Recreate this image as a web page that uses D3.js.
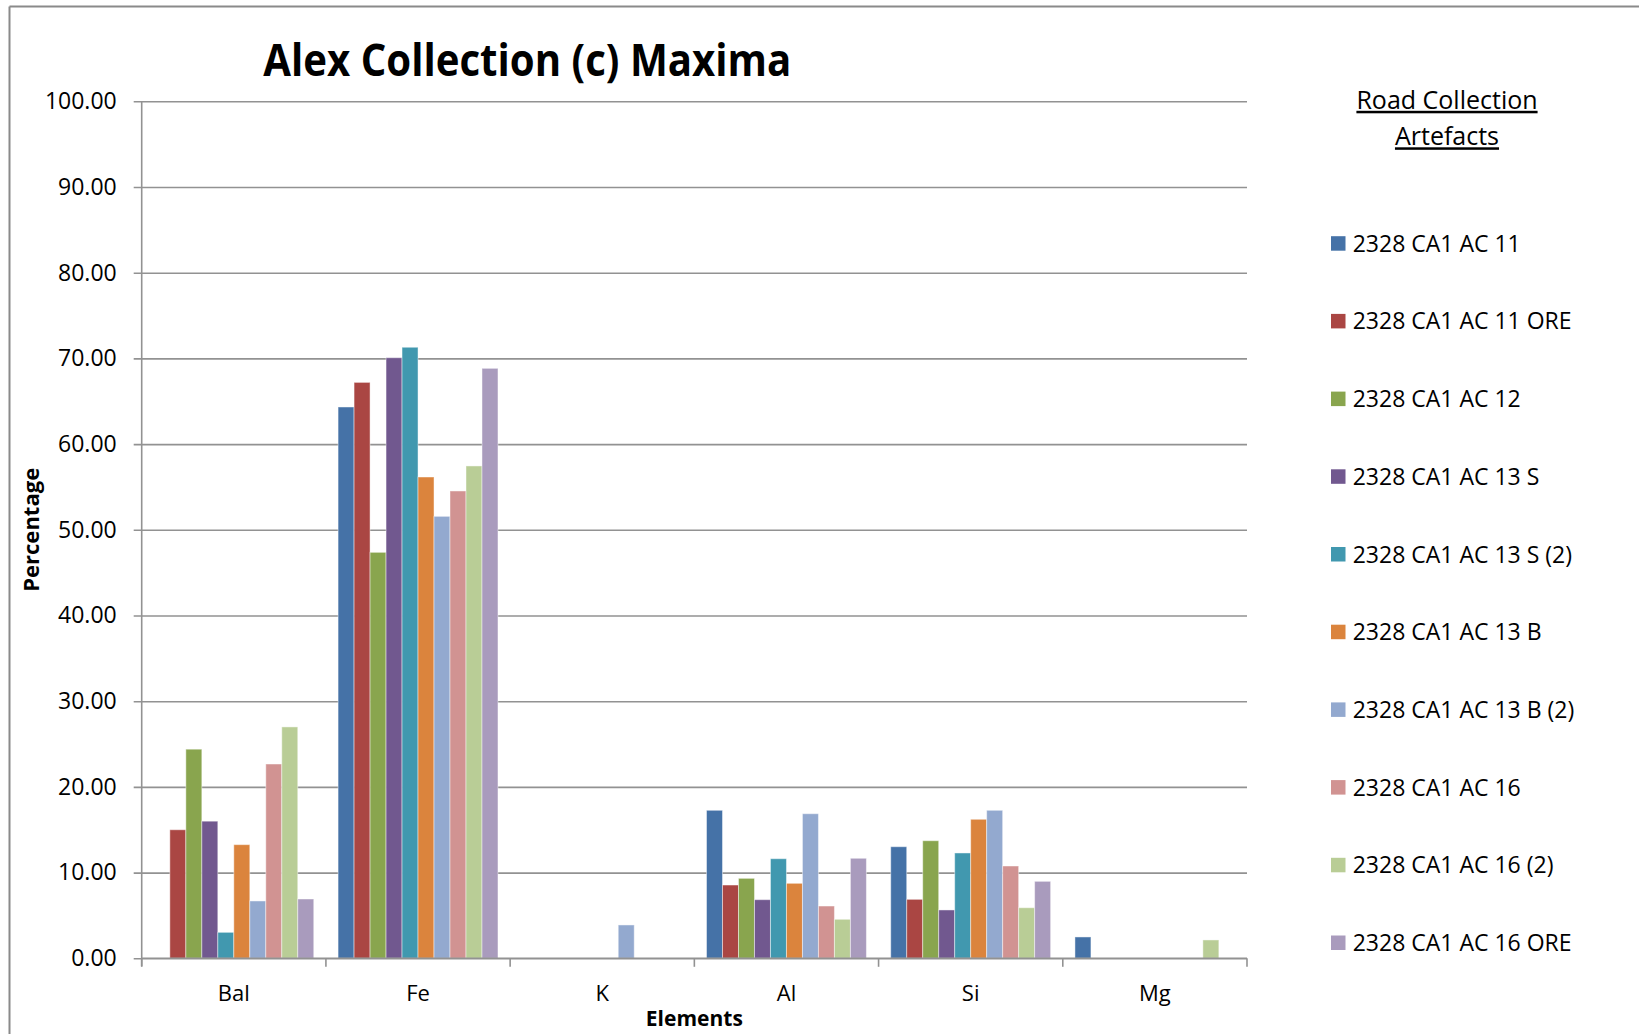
<!DOCTYPE html>
<html>
<head>
<meta charset="utf-8">
<script src="https://cdn.jsdelivr.net/npm/d3@7/dist/d3.min.js"></script>
<style>
  html, body { margin: 0; padding: 0; background: #fff; }
  svg { display: block; }
  text { font-family: "Open Sans", "Noto Sans", sans-serif; fill: #000; }
</style>
</head>
<body>
<svg id="chart" width="1639" height="1034"></svg>
<script>
const categories = ["Bal", "Fe", "K", "Al", "Si", "Mg"];
const seriesNames = [
  "2328 CA1 AC 11", "2328 CA1 AC 11 ORE", "2328 CA1 AC 12", "2328 CA1 AC 13 S",
  "2328 CA1 AC 13 S (2)", "2328 CA1 AC 13 B", "2328 CA1 AC 13 B (2)", "2328 CA1 AC 16",
  "2328 CA1 AC 16 (2)", "2328 CA1 AC 16 ORE"
];
// values per series, in category order: Bal, Fe, K, Al, Si, Mg
const s_AC11      = [0,     64.33, 0,    17.27, 13.02, 2.49];
const s_AC11ORE   = [15.0,  67.2,  0,    8.55,  6.88,  0];
const s_AC12      = [24.4,  47.37, 0,    9.33,  13.72, 0];
const s_AC13S     = [16.0,  70.08, 0,    6.84,  5.64,  0];
const s_AC13S2    = [3.03,  71.3,  0,    11.62, 12.29, 0];
const s_AC13B     = [13.26, 56.16, 0,    8.75,  16.22, 0];
const s_AC13B2    = [6.69,  51.57, 3.89, 16.87, 17.27, 0];
const s_AC16      = [22.67, 54.53, 0,    6.1,   10.77, 0];
const s_AC16_2    = [27.0,  57.45, 0,    4.55,  5.9,   2.14];
const s_AC16ORE   = [6.92,  68.84, 0,    11.67, 8.98,  0];
const seriesValues = [s_AC11, s_AC11ORE, s_AC12, s_AC13S, s_AC13S2, s_AC13B, s_AC13B2, s_AC16, s_AC16_2, s_AC16ORE];
const colors = ["#4572A7", "#AA4643", "#89A54E", "#71588F", "#4198AF", "#DB843D", "#93A9CF", "#D19392", "#B9CD96", "#A99BBD"];
const yTicks = [0, 10, 20, 30, 40, 50, 60, 70, 80, 90, 100];
const titleText = "Alex Collection (c) Maxima";
const xTitle = "Elements";
const yTitle = "Percentage";
const legendTitle = ["Road Collection", "Artefacts"];

const svg = d3.select("#chart");
const plot = { left: 141.7, right: 1247, top: 101.3, bottom: 958.3 };
const gridColor = "#929292";

// outer frame
svg.append("line").attr("x1", 9.5).attr("x2", 1639).attr("y1", 6.5).attr("y2", 6.5)
  .attr("stroke", "#8a8a8a").attr("stroke-width", 2);
svg.append("line").attr("x1", 9.5).attr("x2", 9.5).attr("y1", 6.5).attr("y2", 1034)
  .attr("stroke", "#8a8a8a").attr("stroke-width", 2);

const y = d3.scaleLinear().domain([0, 100]).range([plot.bottom, plot.top]);
const x0 = d3.scaleBand().domain(categories).range([plot.left, plot.right])
  .paddingInner(0.132).paddingOuter(0.066);
const x1 = d3.scaleBand().domain(d3.range(seriesNames.length)).range([0, x0.bandwidth()]).padding(0);

// gridlines + y ticks
const yAxis = d3.axisLeft(y).tickValues(yTicks).tickSize(plot.right - plot.left + 8)
  .tickFormat(d => d.toFixed(2)).tickPadding(17);
const gy = svg.append("g").attr("transform", `translate(${plot.right},0)`).call(yAxis);
gy.select(".domain").remove();
gy.selectAll(".tick line").attr("stroke", gridColor).attr("stroke-width", 1.6);
gy.selectAll(".tick text").attr("font-size", 23).attr("fill", "#000")
  .attr("font-family", "'Open Sans', sans-serif");

// bars
const bars = svg.append("g");
seriesValues.forEach((vals, si) => {
  bars.selectAll(null).data(vals.map((v, ci) => ({ v, c: categories[ci] })).filter(d => d.v > 0))
    .enter().append("rect")
    .attr("x", d => x0(d.c) + x1(si))
    .attr("width", x1.bandwidth())
    .attr("y", d => y(d.v))
    .attr("height", d => y(0) - y(d.v))
    .attr("fill", colors[si])
    .attr("stroke", "#ffffff").attr("stroke-opacity", 0.45).attr("stroke-width", 1);
});

// y axis line
svg.append("line").attr("x1", plot.left).attr("x2", plot.left).attr("y1", plot.top).attr("y2", plot.bottom + 8)
  .attr("stroke", gridColor).attr("stroke-width", 1.6);

// x axis
const xAxis = d3.axisBottom(x0).tickSize(0).tickPadding(27);
const gx = svg.append("g").attr("transform", `translate(0,${plot.bottom})`).call(xAxis);
gx.select(".domain").remove();
gx.selectAll(".tick text").attr("font-size", 22).attr("fill", "#000")
  .attr("font-family", "'Open Sans', sans-serif");
svg.append("line").attr("x1", plot.left).attr("x2", plot.right).attr("y1", plot.bottom).attr("y2", plot.bottom)
  .attr("stroke", gridColor).attr("stroke-width", 1.6);
// category boundary ticks
const boundaries = d3.range(categories.length + 1).map(i => plot.left + i * (plot.right - plot.left) / categories.length);
svg.append("g").selectAll("line").data(boundaries).enter().append("line")
  .attr("x1", d => d).attr("x2", d => d).attr("y1", plot.bottom).attr("y2", plot.bottom + 8.5)
  .attr("stroke", gridColor).attr("stroke-width", 1.6);

// title
svg.append("text").attr("x", 527.3).attr("y", 76.3).attr("text-anchor", "middle")
  .attr("font-size", 45).attr("font-weight", "bold")
  .attr("textLength", 528).attr("lengthAdjust", "spacingAndGlyphs").text(titleText);

// axis titles
svg.append("text").attr("x", (plot.left + plot.right) / 2).attr("y", 1026).attr("text-anchor", "middle")
  .attr("font-size", 21).attr("font-weight", "bold").text(xTitle);
svg.append("text").attr("transform", `translate(38.5,${(plot.top + plot.bottom) / 2}) rotate(-90)`)
  .attr("text-anchor", "middle").attr("font-size", 21).attr("font-weight", "bold")
  .attr("textLength", 124).attr("lengthAdjust", "spacingAndGlyphs").text(yTitle);

// legend title
legendTitle.forEach((t, i) => {
  svg.append("text").attr("x", 1447).attr("y", 108.8 + i * 36.5).attr("text-anchor", "middle")
    .attr("font-size", 25).attr("text-decoration", "underline").text(t);
});

// legend items
const legend = svg.append("g");
const rowY = d3.scaleLinear().domain([0, 9]).range([251.7, 951]);
seriesNames.forEach((name, i) => {
  legend.append("rect").attr("x", 1331).attr("y", rowY(i) - 15.5).attr("width", 14.5).attr("height", 14.5)
    .attr("fill", colors[i]);
  legend.append("text").attr("x", 1352.7).attr("y", rowY(i)).attr("font-size", 23).text(name);
});
</script>
</body>
</html>
